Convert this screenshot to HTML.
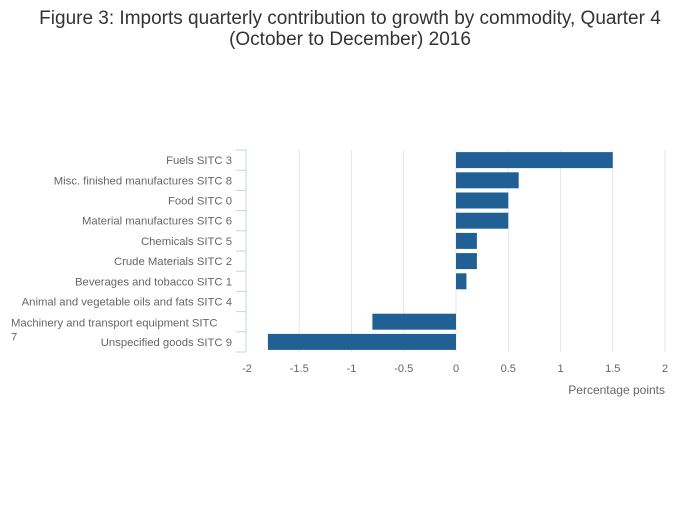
<!DOCTYPE html>
<html><head><meta charset="utf-8"><style>
body{margin:0;background:#fff;font-family:"Liberation Sans","DejaVu Sans",sans-serif;}
</style></head><body>
<svg width="700" height="502" xmlns="http://www.w3.org/2000/svg">
<text x="350" y="24" text-anchor="middle" font-size="19" fill="#333">Figure 3: Imports quarterly contribution to growth by commodity, Quarter 4</text>
<text x="350" y="45" text-anchor="middle" font-size="19" fill="#333">(October to December) 2016</text>
<g id="grid"></g><g id="bars"></g><g id="yaxis"></g><g id="xaxis"></g>
<text x="665" y="394" text-anchor="end" font-size="12" fill="#666">Percentage points</text>
</svg>
<script>
const categories=["Fuels SITC 3","Misc. finished manufactures SITC 8","Food SITC 0","Material manufactures SITC 6","Chemicals SITC 5","Crude Materials SITC 2","Beverages and tobacco SITC 1","Animal and vegetable oils and fats SITC 4","Machinery and transport equipment SITC 7","Unspecified goods SITC 9"];
const values=[1.5,0.6,0.5,0.5,0.2,0.2,0.1,0,-0.8,-1.8];
const xTicks=[-2,-1.5,-1,-0.5,0,0.5,1,1.5,2];
const xTickLabels=["-2","-1.5","-1","-0.5","0","0.5","1","1.5","2"];
const NS="http://www.w3.org/2000/svg";
const x0=247,x1=665,plotTop=150,plotBottom=352;
const xs=v=>x0+(v-(-2))/4*(x1-x0);
const rowH=(plotBottom-plotTop)/categories.length;
const ys=i=>plotTop+i*rowH;
function mk(t,a,p){const e=document.createElementNS(NS,t);for(const k in a)e.setAttribute(k,a[k]);p.appendChild(e);return e;}
const grid=document.getElementById('grid'),bars=document.getElementById('bars'),ya=document.getElementById('yaxis'),xa=document.getElementById('xaxis');
xTicks.forEach((t,i)=>{
 if(i>0){const l=mk('line',{x1:xs(t),x2:xs(t),y1:plotTop,y2:plotBottom,stroke:'#e6e6e6','stroke-width':1},grid);
 
 }
 const tx=mk('text',{x:xs(t),y:372,'text-anchor':'middle','font-size':11,fill:'#666'},xa);
 tx.textContent=xTickLabels[i];
 
 
});
const al=mk('line',{x1:246,x2:246,y1:plotTop-1,y2:plotBottom,stroke:'#c5d3e8','stroke-width':1},ya);


for(let i=0;i<=categories.length;i++){
 const tk=mk('line',{x1:236,x2:246,y1:ys(i),y2:ys(i),stroke:'#c5d3e8','stroke-width':1},ya);
 
 
}
categories.forEach((c,i)=>{
 const cy=ys(i)+rowH/2;
 const v=values[i];
 if(v!==0){const r=mk('rect',{x:Math.min(xs(0),xs(v)),y:cy-8,width:Math.abs(xs(v)-xs(0)),height:16,fill:'#206095'},bars);
 
 }
 if(c.indexOf("Machinery")===0){
  const words=c.split(" ");
  const t1=mk('text',{x:11,y:cy+5,'font-size':11.3,fill:'#666'},ya);t1.textContent=words.slice(0,-1).join(" ");
  
  
  const t2=mk('text',{x:11,y:cy+19,'font-size':11.3,fill:'#666'},ya);t2.textContent=words[words.length-1];
  
  
 } else {
  const t=mk('text',{x:232,y:cy+4,'text-anchor':'end','font-size':11.3,fill:'#666'},ya);t.textContent=c;
  
  
 }
});
</script>
</body></html>
